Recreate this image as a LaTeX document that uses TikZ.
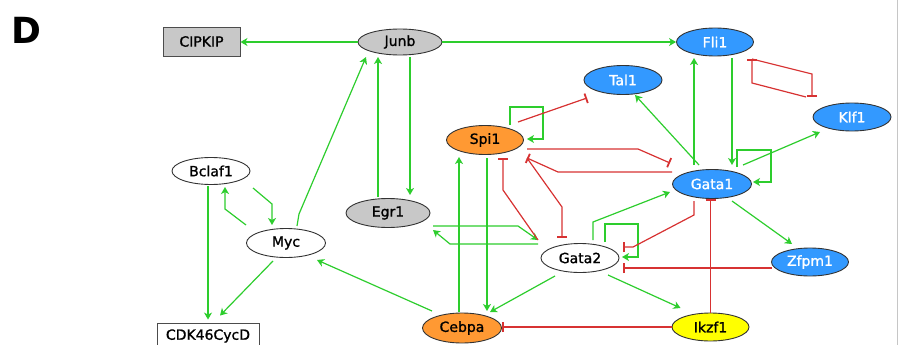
\documentclass[tikz,border=0pt]{standalone}
\usepackage{fontspec}
\setmainfont{DejaVu Sans}
\newfontfamily\genefont[FakeBold=1.2]{DejaVu Sans}
\usetikzlibrary{shapes.geometric,arrows.meta,calc}
\definecolor{gr}{RGB}{45,205,45}
\definecolor{rd}{RGB}{215,50,50}
\definecolor{bl}{RGB}{51,153,255}
\definecolor{orng}{RGB}{255,153,51}
\definecolor{yl}{RGB}{255,255,0}
\definecolor{gry}{RGB}{200,200,200}
\begin{document}
\begin{tikzpicture}[x=1pt,y=-1pt,
  gene/.style={ellipse,draw=black!80,line width=0.9pt,minimum width=78pt,minimum height=28pt,inner sep=0pt,font=\genefont\fontsize{14}{16}\selectfont},
  bluegene/.style={gene,fill=bl,text=white},
  orgene/.style={gene,fill=orng},
  graygene/.style={gene,fill=gry},
  whitegene/.style={gene,fill=white},
  ylgene/.style={gene,fill=yl},
  boxnode/.style={rectangle,draw=black!70,line width=0.9pt,inner sep=0pt,font=\genefont\fontsize{14}{16}\selectfont},
  act/.style={draw=gr,line width=1.2pt,-{Stealth[length=7pt,width=8pt,inset=2pt]}},
  inh/.style={draw=rd,line width=1.2pt,-{Bar[width=10pt,line width=1.8pt]}},
]
\useasboundingbox (0,0) rectangle (904,345);
\draw[gry!80!black!60,line width=1pt] (897,0) -- (897,345);
\node[font=\fontsize{36}{40}\selectfont\bfseries] (lab) at (26,30) {D};

% nodes
\node[boxnode,fill=gry,minimum width=77pt,minimum height=29pt] (cipkip) at (201.5,41.5) {CIPKIP};
\node[graygene,minimum width=84pt,minimum height=26pt] (junb) at (400,42) {Junb};
\node[bluegene,minimum width=77pt] (fli1) at (715,42) {Fli1};
\node[bluegene,minimum height=29pt] (tal1) at (623,80) {Tal1};
\node[bluegene] (klf1) at (852,117) {Klf1};
\node[orgene,minimum width=77pt,minimum height=29pt] (spi1) at (485,140) {Spi1};
\node[bluegene,minimum width=79pt,minimum height=29pt] (gata1) at (712,184) {Gata1};
\node[whitegene,minimum height=27pt] (bclaf1) at (211,171) {Bclaf1};
\node[whitegene,minimum width=79pt,minimum height=29pt] (myc) at (286,243) {Myc};
\node[graygene,minimum width=84pt,minimum height=29pt] (egr1) at (388,213) {Egr1};
\node[whitegene,minimum height=29pt] (gata2) at (580,258) {Gata2};
\node[bluegene,minimum width=77pt] (zfpm1) at (810,262) {Zfpm1};
\node[orgene,minimum width=79pt,minimum height=30pt] (cebpa) at (462,328) {Cebpa};
\node[ylgene,minimum width=77pt] (ikzf1) at (710.5,327) {Ikzf1};
\node[boxnode,fill=white,minimum width=102pt,minimum height=26pt] (cdk) at (208,336) {CDK46CycD};

% activations
\draw[act] (junb.west) -- (junb.west -| cipkip.east);
\draw[act] (junb.east) -- (junb.east -| fli1.west);
\draw[act] ($(myc)+(11,-17)$) -- ($(myc)+(13,-29)$) -- ($(junb)+(-34,15)$);
\draw[act] ($(egr1)+(-10,-16)$) -- ($(junb)+(-22,15)$);
\draw[act] ($(junb)+(10,15)$) -- ($(egr1)+(22,-18)$);
\draw[act] ($(bclaf1)+(-3,15)$) -- ($(cdk.north)+(0,-3)$);
\draw[act] ($(myc)+(-13,18)$) -- ($(cdk.north)+(12,-7)$);
\draw[act] ($(myc)+(-40,-18)$) -- ($(myc)+(-61,-34)$) -- ($(bclaf1)+(14,16)$);
\draw[act] ($(bclaf1)+(42,17)$) -- ($(myc)+(-14,-39)$) -- ($(myc)+(-14,-18)$);
\draw[act] ($(cebpa)+(-30,-17)$) -- ($(myc)+(31,17)$);
\draw[act] ($(cebpa)+(-3,-16)$) -- ($(spi1)+(-26,17)$);
\draw[act] ($(spi1)+(2,18)$) -- ($(cebpa)+(25,-17)$);
\draw[act] ($(gata2)+(-25,18)$) -- ($(cebpa)+(28,-16)$);
\draw[act] ($(egr1)+(45,13)$) -- ($(gata2)+(-62,-32)$) -- ($(gata2)+(-42,-18)$);
\draw[act] ($(gata2)+(-42,-14)$) -- ($(gata2)+(-130,-14)$) -- ($(egr1)+(45,17)$);
\draw[act] ($(spi1)+(25,-15)$) -- ($(spi1)+(25,-33)$) -- ($(spi1)+(58,-33)$) -- ($(spi1)+(58,-1)$) -- ($(spi1)+(42,-1)$);
\draw[act] ($(gata1)+(-13,-19)$) -- ($(tal1)+(12,15)$);
\draw[act] ($(gata1)+(-18,-19)$) -- ($(fli1)+(-21,16)$);
\draw[act] ($(fli1)+(17,16)$) -- ($(gata1)+(20,-19)$);
\draw[act] ($(gata1)+(31,-19)$) -- ($(klf1)+(-32,15)$);
\draw[act] ($(gata1)+(25,-17)$) -- ($(gata1)+(25,-34)$) -- ($(gata1)+(59,-34)$) -- ($(gata1)+(59,-2)$) -- ($(gata1)+(41,-2)$);
\draw[act] ($(gata2)+(13,-18)$) -- ($(gata2)+(13,-36)$) -- ($(gata1)+(-42,8)$);
\draw[act] ($(gata2)+(25,-16)$) -- ($(gata2)+(25,-34)$) -- ($(gata2)+(58,-34)$) -- ($(gata2)+(58,-1)$) -- ($(gata2)+(42,-1)$);
\draw[act] ($(gata1)+(20,17)$) -- ($(zfpm1)+(-18,-18)$);
\draw[act] ($(gata2)+(28,17)$) -- ($(ikzf1)+(-30,-19)$);

% inhibitions
\draw[inh] (ikzf1.west) -- (ikzf1.west -| cebpa.east);
\draw[inh] ($(gata2)+(-42,-18)$) -- ($(spi1)+(18,50)$) -- ($(spi1)+(18,18)$);
\draw[inh] ($(spi1)+(42,18)$) -- ($(gata2)+(-18,-51)$) -- ($(gata2)+(-18,-20)$);
\draw[inh] ($(spi1)+(42,9)$) -- ($(gata1)+(-74,-35)$) -- ($(gata1)+(-42,-21)$);
\draw[inh] ($(gata1)+(-40,-12)$) -- ($(gata1)+(-154,-12)$) -- ($(spi1)+(42,18)$);
\draw[inh] ($(spi1)+(33,-18)$) -- ($(tal1)+(-36,18)$);
\draw[inh] ($(fli1)+(37,17)$) -- ($(klf1)+(-40,-43)$) -- ($(klf1)+(-40,-20)$);
\draw[inh] ($(klf1)+(-46,-20)$) -- ($(fli1)+(37,41)$) -- ($(fli1)+(37,17)$);
\draw[inh] ($(gata1)+(-18,17)$) -- ($(gata1)+(-18,31)$) -- ($(gata2)+(53,-11)$) -- ($(gata2)+(43,-11)$);
\draw[inh] ($(zfpm1)+(-38,6)$) -- ($(gata2)+(43,10)$);
\draw[inh] (ikzf1.north) -- (ikzf1.north |- gata1.south);
\end{tikzpicture}
\end{document}
